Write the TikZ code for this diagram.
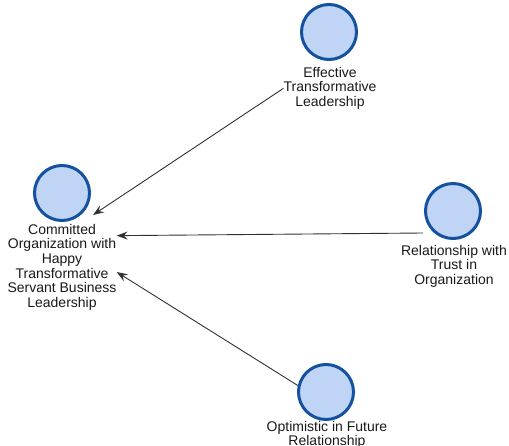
\documentclass[tikz,border=0pt]{standalone}
\usepackage{fontspec}
\setmainfont{Liberation Sans}
\usetikzlibrary{arrows.meta}
\definecolor{circfill}{RGB}{192,213,245}
\definecolor{circline}{RGB}{20,82,160}
\definecolor{arrcol}{RGB}{45,50,50}
\definecolor{txtcol}{RGB}{25,25,25}
\begin{document}
\begin{tikzpicture}[x=1pt,y=1pt,
  entity/.style={circle,draw=circline,fill=circfill,line width=3pt,minimum size=55pt,inner sep=0pt},
  lbl/.style={anchor=north,inner sep=0pt,align=center,text=txtcol,
    font=\fontsize{14}{14.6}\selectfont},
  arr/.style={draw=arrcol,line width=0.9pt,-{Stealth[length=11pt,width=8pt,inset=4pt]}}]
\useasboundingbox (0,0) rectangle (509,-446);
% nodes
\node[entity] (tc) at (329,-32) {};
\node[lbl] (tl) at (330,-67) {Effective\\Transformative\\Leadership};
\node[entity] (lc) at (62,-193) {};
\node[lbl] (ll) at (62,-224) {Committed\\Organization with\\Happy\\Transformative\\Servant Business\\Leadership};
\node[entity] (rc) at (453,-211) {};
\node[lbl] (rl) at (454,-245) {Relationship with\\Trust in\\Organization};
\node[entity] (bc) at (326,-392) {};
\node[lbl] (bl) at (327,-421) {Optimistic in Future\\Relationship};
% connector ends
\coordinate (t1) at ([shift={(31pt,-22pt)}]lc.center);
\coordinate (s2) at ([shift={(-30pt,-22pt)}]rc.center);
% connectors
\draw[arr] (tl.west) -- (t1);
\draw[arr] (s2) -- (ll.30);
\draw[arr] (bc.167) -- (ll.-5);
\end{tikzpicture}
\end{document}
